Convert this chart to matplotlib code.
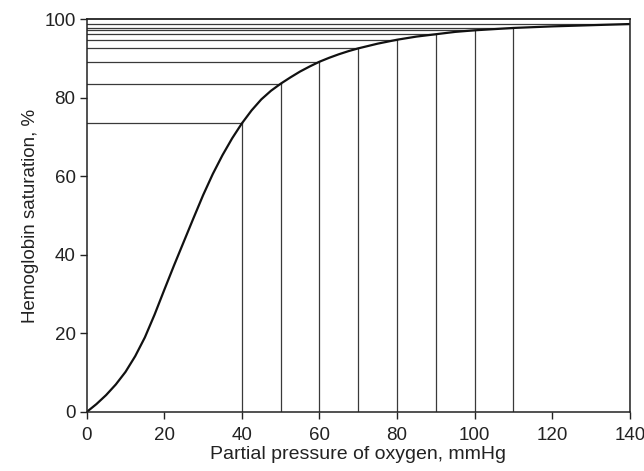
import matplotlib
matplotlib.use("Agg")
import matplotlib.pyplot as plt

plt.rcParams['font.family'] = ['Liberation Sans', 'DejaVu Sans']

# Oxygen dissociation curve
po2 = [0, 2.5, 5, 7.5, 10, 12.5, 15, 17.5, 20, 22.5, 25, 27.5, 30, 32.5, 35, 37.5,
       40, 42.5, 45, 47.5, 50, 52.5, 55, 57.5, 60, 62.5, 65, 67.5, 70, 75, 80, 85, 90, 95,
       100, 110, 120, 130, 140]
sat = [0, 2.0, 4.3, 7.0, 10.2, 14.2, 19.0, 24.8, 31.1, 37.3, 43.3, 49.3, 55.2, 60.6, 65.4, 69.7,
       73.5, 76.8, 79.6, 81.8, 83.6, 85.2, 86.7, 88.0, 89.2, 90.2, 91.1, 91.9, 92.6, 93.8, 94.8, 95.6, 96.2, 96.8,
       97.2, 97.8, 98.2, 98.5, 98.8]

# Reference drop lines
ref_po2 = [40, 50, 60, 70, 80, 90, 100, 110, 140]
ref_sat = [73.5, 83.6, 89.2, 92.6, 94.8, 96.2, 97.2, 97.8, 98.8]

xticks = [0, 20, 40, 60, 80, 100, 120, 140]
yticks = [0, 20, 40, 60, 80, 100]

fig = plt.figure(figsize=(6.44, 4.71), dpi=100)
ax = fig.add_axes([0.1346, 0.1253, 0.978 - 0.1346, 0.959 - 0.1253])

lc = '#3a3a3a'
for x, s in zip(ref_po2, ref_sat):
    ax.plot([x, x], [0, s], color=lc, lw=0.9)
    ax.plot([0, x], [s, s], color=lc, lw=0.9)

ax.plot(po2, sat, color='#111111', lw=1.6, solid_joinstyle='round', solid_capstyle='round')

ax.set_xlim(0, 140)
ax.set_ylim(0, 100)
ax.set_xticks(xticks)
ax.set_yticks(yticks)
for sp in ax.spines.values():
    sp.set_color('#222222')
    sp.set_linewidth(1.1)
ax.spines['top'].set_linewidth(1.3)
ax.tick_params(direction='out', length=5, width=1, colors='#222222', labelsize=13.5)
ax.tick_params(axis='x', pad=6)
ax.tick_params(axis='y', pad=3)
ax.set_xlabel('Partial pressure of oxygen, mmHg', fontsize=14, color='#222222', labelpad=1)
ax.set_ylabel('Hemoglobin saturation, %', fontsize=13.5, color='#222222', labelpad=4)

fig.savefig('out.png', dpi=100)
